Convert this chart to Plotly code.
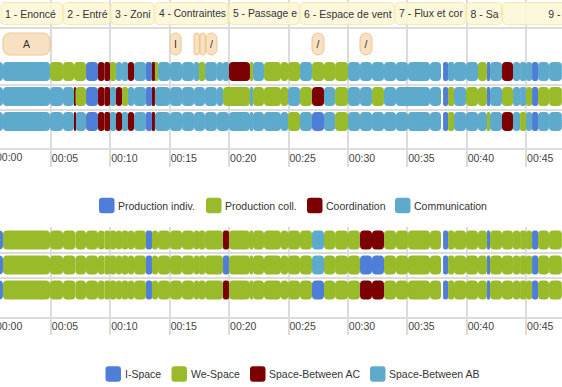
import plotly.graph_objects as go

# ---------- data (times in minutes) ----------
TASK_STARTS = [0.8, 6.04, 10.05, 13.75, 19.98, 25.96, 33.96, 39.97, 43.0]
TASK_ENDS = [5.99, 9.97, 13.67, 19.9, 25.88, 33.88, 39.88, 42.92, 52.0]
TASK_LABELS = ["1 - Enoncé", "2 - Entré", "3 - Zoni", "4 - Contraintes", "5 - Passage e",
               "6 - Espace de vent", "7 - Flux et cor", "8 - Sa", "9 - "]
NOTE_STARTS = [0.96, 15.02, 17.04, 17.55, 18.05, 26.97, 31.01]
NOTE_ENDS = [4.92, 15.95, 17.5, 18.0, 18.97, 27.98, 32.02]
NOTE_LABELS = ["A", "I", "", "", "/", "/", "/"]

TICK_VALUES = [5, 10, 15, 20, 25, 30, 35, 40, 45]
TICK_LABELS = ["00:05", "00:10", "00:15", "00:20", "00:25", "00:30", "00:35", "00:40", "00:45"]

LEGEND_TOP = ["Production indiv.", "Production coll.", "Coordination", "Communication"]
LEGEND_BOTTOM = ["I-Space", "We-Space", "Space-Between AC", "Space-Between AB"]

# (end time, category); "-" is a gap
TOP_1 = [(0.96,"C"),(4.92,"C"),(6.01,"G"),(6.94,"G"),(7.95,"G"),(8.96,"I"),(9.50,"D"),(9.97,"D"),
         (10.47,"G"),(10.98,"C"),(11.48,"C"),(11.99,"D"),(13.00,"C"),(13.50,"I"),(13.75,"D"),(14.01,"G"),
         (15.02,"C"),(16.03,"C"),(17.04,"C"),(17.46,"C"),(17.96,"G"),(18.97,"C"),(19.48,"C"),(19.98,"C"),
         (21.75,"D"),(22.00,"G"),(22.93,"C"),(24.36,"G"),(24.95,"G"),(25.96,"G"),(26.97,"C"),(27.98,"G"),
         (28.91,"G"),(30.0,"G"),(31.01,"C"),(32.02,"C"),(33.03,"C"),(34.04,"C"),(35.05,"C"),(36.90,"C"),
         (37.83,"C"),(38.0,"-"),(38.42,"I"),(38.92,"C"),(39.93,"C"),(40.94,"C"),(41.70,"G"),(41.95,"I"),
         (42.96,"C"),(43.89,"D"),(44.48,"C"),(44.98,"C"),(45.49,"C"),(45.99,"I"),(46.92,"C"),(48.0,"C")]
TOP_2 = [(0.96,"C"),(4.92,"C"),(6.01,"C"),(6.94,"C"),(7.06,"D"),(7.95,"G"),(8.96,"I"),(9.50,"D"),(9.97,"D"),
         (10.47,"C"),(10.98,"D"),(11.48,"G"),(11.99,"C"),(13.00,"C"),(13.50,"I"),(13.75,"D"),(15.02,"C"),
         (16.03,"C"),(17.04,"C"),(17.96,"C"),(18.97,"C"),(19.48,"C"),(21.75,"G"),(22.00,"C"),(22.93,"G"),
         (24.36,"G"),(24.95,"G"),(25.96,"C"),(26.97,"G"),(27.98,"D"),(28.91,"C"),(30.0,"G"),(31.01,"C"),
         (32.02,"C"),(33.03,"G"),(34.04,"C"),(36.90,"C"),(37.83,"C"),(38.0,"-"),(38.42,"I"),(38.92,"G"),
         (39.93,"C"),(40.94,"G"),(41.70,"G"),(41.95,"I"),(42.96,"C"),(43.89,"G"),(44.48,"C"),(44.98,"C"),
         (45.49,"G"),(45.99,"I"),(46.92,"G"),(48.0,"G")]
TOP_3 = [(0.96,"C"),(4.92,"C"),(6.01,"C"),(6.94,"C"),(7.06,"D"),(7.95,"C"),(8.96,"I"),(9.50,"D"),(9.97,"D"),
         (10.47,"C"),(10.98,"D"),(11.48,"C"),(11.99,"D"),(13.00,"C"),(13.50,"I"),(13.75,"D"),(15.02,"C"),
         (16.03,"C"),(17.04,"C"),(17.96,"C"),(18.97,"C"),(19.98,"C"),(21.75,"C"),(22.00,"C"),(22.93,"C"),
         (24.36,"C"),(24.95,"C"),(25.96,"G"),(26.97,"C"),(27.98,"I"),(28.91,"C"),(30.0,"G"),(31.01,"C"),
         (32.02,"C"),(33.03,"C"),(34.04,"C"),(35.05,"C"),(36.90,"C"),(37.83,"C"),(38.0,"-"),(38.42,"I"),
         (38.92,"G"),(39.93,"C"),(40.94,"C"),(41.70,"C"),(41.95,"G"),(42.96,"C"),(43.89,"D"),(44.48,"C"),
         (44.98,"G"),(45.49,"C"),(45.99,"I"),(46.92,"C"),(48.0,"C")]
BOTTOM_1 = [(0.96,"I"),(4.92,"G"),(6.01,"G"),(7.06,"G"),(7.95,"G"),(8.96,"G"),(9.50,"G"),(9.97,"G"),(10.47,"G"),
            (10.98,"G"),(11.48,"G"),(11.99,"G"),(13.00,"G"),(13.50,"I"),(14.01,"G"),(15.02,"G"),(16.03,"G"),
            (17.04,"G"),(17.46,"G"),(17.96,"G"),(19.48,"G"),(19.98,"D"),(21.75,"G"),(22.00,"G"),(22.93,"G"),
            (24.36,"G"),(24.95,"G"),(25.96,"G"),(26.97,"G"),(27.98,"C"),(28.91,"G"),(30.0,"G"),(31.01,"G"),
            (32.02,"D"),(33.03,"D"),(34.04,"G"),(35.05,"G"),(36.90,"G"),(37.83,"G"),(38.0,"-"),(38.42,"I"),
            (38.92,"G"),(39.93,"G"),(40.94,"G"),(41.70,"G"),(41.95,"I"),(42.96,"G"),(43.89,"G"),(44.48,"G"),
            (44.98,"G"),(45.49,"G"),(45.99,"I"),(46.92,"G"),(48.0,"G")]
BOTTOM_2 = [(0.96,"I"),(4.92,"G"),(6.01,"G"),(7.06,"G"),(7.95,"G"),(8.96,"G"),(9.50,"G"),(9.97,"G"),(10.47,"G"),
            (10.98,"G"),(11.48,"G"),(11.99,"G"),(13.00,"G"),(13.50,"I"),(14.01,"G"),(15.02,"G"),(16.03,"G"),
            (17.04,"G"),(17.46,"G"),(17.96,"G"),(19.48,"G"),(19.98,"I"),(21.75,"G"),(22.00,"G"),(22.93,"G"),
            (24.36,"G"),(24.95,"G"),(25.96,"G"),(26.97,"G"),(27.98,"C"),(28.91,"G"),(30.0,"G"),(31.01,"G"),
            (32.02,"I"),(33.03,"I"),(34.04,"G"),(35.05,"G"),(36.90,"G"),(37.83,"G"),(38.0,"-"),(38.42,"I"),
            (38.92,"G"),(39.93,"G"),(40.94,"G"),(41.70,"G"),(41.95,"I"),(42.96,"G"),(43.89,"G"),(44.48,"G"),
            (44.98,"G"),(45.49,"G"),(45.99,"I"),(46.92,"G"),(48.0,"G")]
BOTTOM_3 = [(0.96,"I"),(4.92,"G"),(6.01,"G"),(7.06,"G"),(7.95,"G"),(8.96,"G"),(9.50,"G"),(9.97,"G"),(10.47,"G"),
            (10.98,"G"),(11.48,"G"),(11.99,"G"),(13.00,"G"),(13.50,"I"),(14.01,"G"),(15.02,"G"),(16.03,"G"),
            (17.04,"G"),(17.46,"G"),(17.96,"G"),(19.48,"G"),(19.98,"D"),(21.75,"G"),(22.00,"G"),(22.93,"G"),
            (24.36,"G"),(24.95,"G"),(25.96,"G"),(26.97,"G"),(27.98,"I"),(28.91,"G"),(30.0,"G"),(31.01,"G"),
            (32.02,"D"),(33.03,"D"),(34.04,"G"),(35.05,"G"),(36.90,"G"),(37.83,"G"),(38.0,"-"),(38.42,"I"),
            (38.92,"G"),(39.93,"G"),(40.94,"G"),(41.70,"G"),(41.95,"I"),(42.96,"G"),(43.89,"G"),(44.48,"G"),
            (44.98,"G"),(45.49,"G"),(45.99,"I"),(46.92,"G"),(48.0,"G")]

# ---------- style and layout ----------
W, H = 562, 387
COLORS = {"I": "#4f7ed8", "G": "#9abb29", "D": "#7d0000", "C": "#5eaacd"}
FONT = "Liberation Sans, Arial, sans-serif"
X_RANGE = [0.71, 48.01]
GRID = "#dcdcdc"
BAR_H = 19
TOP_Y = [71.5, 96.5, 121.5]
BOTTOM_Y = [240, 265, 290]


def paper_y(py):
    return 1 - py / H


fig = go.Figure()


def add_row(rows, y, xaxis, yaxis):
    start = 0.0
    cats = {}
    for end, cat in rows:
        if cat != "-":
            cats.setdefault(cat, []).append((start, end))
        start = end
    for cat, spans in cats.items():
        fig.add_trace(go.Bar(
            y=[y] * len(spans), base=[s for s, _ in spans], x=[e - s for s, e in spans],
            orientation="h", width=BAR_H, xaxis=xaxis, yaxis=yaxis,
            marker=dict(color=COLORS[cat], cornerradius=4, line=dict(width=0)),
            showlegend=False, hoverinfo="skip"))


for rows, y in zip([TOP_1, TOP_2, TOP_3], TOP_Y):
    add_row(rows, y, "x", "y")
for rows, y in zip([BOTTOM_1, BOTTOM_2, BOTTOM_3], BOTTOM_Y):
    add_row(rows, y, "x2", "y2")

# task banner
text_font = dict(family=FONT, size=10.5, color="#333333")
fig.add_trace(go.Bar(
    y=[13.5] * 8, base=TASK_STARTS[:8], x=[e - s for s, e in zip(TASK_STARTS[:8], TASK_ENDS[:8])],
    orientation="h", width=22, text=TASK_LABELS[:8], textposition="inside", insidetextanchor="start",
    textangle=0, constraintext="none", insidetextfont=text_font,
    marker=dict(color="rgba(253,247,214,0.85)", cornerradius=4, line=dict(color="#f6e9ae", width=1)),
    showlegend=False, hoverinfo="skip"))
fig.add_trace(go.Bar(
    y=[13.5], base=TASK_STARTS[8:], x=[TASK_ENDS[8] - TASK_STARTS[8]],
    orientation="h", width=22, text=TASK_LABELS[8:], textposition="inside", insidetextanchor="middle",
    textangle=0, constraintext="none", insidetextfont=text_font,
    marker=dict(color="rgba(253,247,214,0.85)", cornerradius=4, line=dict(color="#f6e9ae", width=1)),
    showlegend=False, hoverinfo="skip"))
# annotations row
fig.add_trace(go.Bar(
    y=[44] * len(NOTE_STARTS), base=NOTE_STARTS, x=[e - s for s, e in zip(NOTE_STARTS, NOTE_ENDS)],
    orientation="h", width=22, text=NOTE_LABELS, textposition="inside", insidetextanchor="middle",
    textangle=0, constraintext="none", insidetextfont=dict(family=FONT, size=10.5, color="#333333"),
    marker=dict(color="#f8e1c2", cornerradius=7, line=dict(color="#efc68a", width=1)),
    showlegend=False, hoverinfo="skip"))

axis_common = dict(range=X_RANGE, tickvals=TICK_VALUES, ticktext=TICK_LABELS, showgrid=True, gridcolor=GRID,
                   gridwidth=1.5, zeroline=False, ticks="", showline=False, ticklabelposition="inside",
                   ticklabelshift=14, tickfont=dict(family=FONT, size=10.5, color="#444444"))
y_common = dict(showticklabels=False, showgrid=True, gridcolor=GRID, gridwidth=1.5, zeroline=False, ticks="")

fig.update_layout(
    width=W, height=H, margin=dict(l=0, r=0, t=0, b=0), autosize=False,
    paper_bgcolor="white", plot_bgcolor="white", barmode="overlay", showlegend=False,
    xaxis=dict(axis_common, anchor="y", domain=[0, 1]),
    yaxis=dict(y_common, anchor="x", domain=[paper_y(167), 1], range=[167, 0], tickvals=[28, 84.5, 109.5, 149]),
    xaxis2=dict(axis_common, anchor="y2", domain=[0, 1]),
    yaxis2=dict(y_common, anchor="x2", domain=[paper_y(335), paper_y(227)], range=[335, 227],
                tickvals=[227, 252.5, 277.5, 318]),
)

# clipped first tick label, legends
annotations = [dict(text="00:00", xref="paper", yref="paper", x=0, xshift=-6, y=paper_y(y0), xanchor="left",
                    yanchor="middle", showarrow=False, font=dict(family=FONT, size=10.5, color="#444444"))
               for y0 in (157, 326)]
shapes = []


def legend(labels, swatch_x, py):
    for label, sx, cat in zip(labels, swatch_x, ["I", "G", "D", "C"]):
        x0, x1, y0, y1 = sx / W, (sx + 15.5) / W, paper_y(py - 7.75), paper_y(py + 7.75)
        rx, ry = 3 / W, 3 / H
        path = (f"M {x0 + rx} {y0} L {x1 - rx} {y0} Q {x1} {y0} {x1} {y0 - ry} L {x1} {y1 + ry} "
                f"Q {x1} {y1} {x1 - rx} {y1} L {x0 + rx} {y1} Q {x0} {y1} {x0} {y1 + ry} "
                f"L {x0} {y0 - ry} Q {x0} {y0} {x0 + rx} {y0} Z")
        shapes.append(dict(type="path", xref="paper", yref="paper", path=path,
                           fillcolor=COLORS[cat], line=dict(width=0)))
        annotations.append(dict(text=label, xref="paper", yref="paper", x=(sx + 17) / W, y=paper_y(py),
                                xanchor="left", yanchor="middle", showarrow=False,
                                font=dict(family=FONT, size=10.5, color="#333333")))


legend(LEGEND_TOP, [99, 206, 307, 395], 205.5)
legend(LEGEND_BOTTOM, [105.5, 171.5, 250, 370], 374)
fig.update_layout(annotations=annotations, shapes=shapes)

fig.write_html("out.html", config=dict(displayModeBar=False),
               post_script="document.body.style.margin='0';document.body.style.overflow='hidden';")
